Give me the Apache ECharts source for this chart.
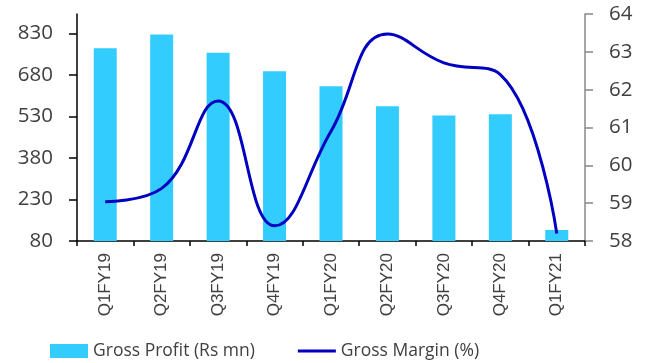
<!DOCTYPE html>
<html>
<head>
<meta charset="utf-8">
<script src="https://cdn.jsdelivr.net/npm/echarts@6/dist/echarts.min.js"></script>
<style>
html,body{margin:0;padding:0;background:#fff;}
#chart{width:651px;height:363px;}
</style>
</head>
<body>
<div id="chart"></div>
<script>
// Quarterly gross profit (bars, left axis) and gross margin (line, right axis)
const quarters = ['Q1FY19','Q2FY19','Q3FY19','Q4FY19','Q1FY20','Q2FY20','Q3FY20','Q4FY20','Q1FY21'];
const grossProfit = [776, 826, 760, 693, 639, 567, 533, 538, 120];
const grossMargin = [59.04, 59.39, 61.70, 58.40, 60.90, 63.47, 62.71, 62.40, 58.20];
const profitTicks = [80, 230, 380, 530, 680, 830];
const marginTicks = [58, 59, 60, 61, 62, 63, 64];

const labelFont = 'Open Sans';
const textColor = '#404040';

const chart = echarts.init(document.getElementById('chart'));
chart.setOption({
  animation: false,
  grid: { left: 77, right: 66, top: 14, bottom: 122, containLabel: false },
  legend: {
    left: 45, top: 337,
    itemWidth: 38, itemHeight: 14, itemGap: 43,
    textStyle: { fontFamily: labelFont, fontSize: 17.5, color: textColor, padding: [0, 0, 0, 0] },
    data: [
      { name: 'Gross Profit (Rs mn)', icon: 'rect' },
      { name: 'Gross Margin (%)', icon: 'path://M0,0 L40,0 L40,3 L0,3 Z' }
    ]
  },
  xAxis: {
    type: 'category',
    data: quarters,
    boundaryGap: true,
    axisLine: { lineStyle: { color: '#000', width: 1.5 } },
    axisTick: { show: true, length: 5, lineStyle: { color: '#000', width: 1.5 } },
    axisLabel: { rotate: 90, margin: 12, fontFamily: 'Liberation Sans', fontSize: 17, color: textColor }
  },
  yAxis: [
    {
      type: 'value', min: 80, max: 900,
      splitLine: { show: false },
      axisLine: { show: true, lineStyle: { color: '#000', width: 1.5 } },
      axisTick: { show: true, length: 8, customValues: profitTicks, lineStyle: { color: '#000', width: 1.5 } },
      axisLabel: { customValues: profitTicks, margin: 24, fontFamily: labelFont, fontSize: 20.5, color: textColor }
    },
    {
      type: 'value', min: 58, max: 64, interval: 1,
      position: 'right',
      splitLine: { show: false },
      axisLine: { show: true, lineStyle: { color: '#888', width: 1.5 } },
      axisTick: { show: true, length: 8, customValues: marginTicks, lineStyle: { color: '#888', width: 1.5 } },
      axisLabel: { customValues: marginTicks, margin: 24, fontFamily: labelFont, fontSize: 20.5, color: textColor }
    }
  ],
  series: [
    {
      name: 'Gross Profit (Rs mn)', type: 'bar', yAxisIndex: 0,
      data: grossProfit, barWidth: 23,
      itemStyle: { color: '#33CCFF' }
    },
    {
      name: 'Gross Margin (%)', type: 'line', yAxisIndex: 1,
      data: grossMargin, smooth: 0.45, showSymbol: false, symbol: 'none',
      lineStyle: { color: '#0000C0', width: 3 },
      itemStyle: { color: '#0000C0' }
    }
  ]
});
</script>
</body>
</html>
